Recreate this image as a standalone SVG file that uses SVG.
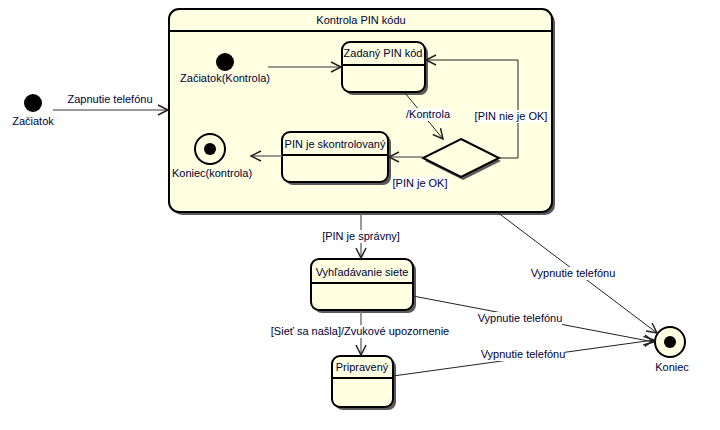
<svg xmlns="http://www.w3.org/2000/svg" width="720" height="430" viewBox="0 0 720 430">
<style>
text{font-family:"Liberation Sans",Arial,sans-serif;font-size:11px;fill:#000033}
.c{text-anchor:middle}
.st{fill:#FFFFE1;stroke:#000;stroke-width:2}
.sh{fill:#5a5a5a;stroke:none}
.hd{stroke:#000;stroke-width:2}
.ln{fill:none;stroke:#222;stroke-width:1}
.gl{fill:none;stroke:#777;stroke-width:1.5}
.lb{fill:#fff}
</style>
<defs>
<marker id="a" markerUnits="userSpaceOnUse" markerWidth="12" markerHeight="12" refX="10" refY="5" orient="auto" overflow="visible">
<path d="M0,0 L10,5 L0,10" fill="none" stroke="#222" stroke-width="1.5"/>
</marker>
</defs>
<rect width="720" height="430" fill="#fff"/>
<g id="composite">
<rect class="sh" x="172" y="12" width="383" height="203" rx="10"/>
<rect class="st" x="169" y="9" width="383" height="203" rx="10"/>
<line class="hd" x1="169" y1="31" x2="552" y2="31"/>
<text class="c" x="361" y="24">Kontrola PIN kódu</text>
</g>
<g id="start">
<circle cx="33" cy="103" r="9" fill="#000"/>
<text class="c" x="33" y="125">Začiatok</text>
</g>
<g id="start-kontrola">
<circle cx="225" cy="62" r="9" fill="#000"/>
<text class="c" x="225" y="82">Začiatok(Kontrola)</text>
</g>
<g id="zadany">
<rect class="sh" x="345" y="45" width="83" height="50" rx="8"/>
<rect class="st" x="342" y="42" width="83" height="50" rx="8"/>
<line class="hd" x1="342" y1="65" x2="425" y2="65"/>
<text class="c" x="383" y="57">Zadaný PIN kód</text>
</g>
<g id="skontrolovany">
<rect class="sh" x="285" y="135" width="106" height="50" rx="8"/>
<rect class="st" x="282" y="132" width="106" height="50" rx="8"/>
<line class="hd" x1="282" y1="155" x2="388" y2="155"/>
<text class="c" x="335" y="148">PIN je skontrolovaný</text>
</g>
<g id="decision">
<polygon class="sh" points="463,142 501,161 463,180 425,161"/>
<polygon class="st" points="461,139 499,158 461,177 423,158"/>
</g>
<g id="end-kontrola">
<circle cx="210" cy="149" r="15" fill="#FFFFE1" stroke="#000" stroke-width="2"/>
<circle cx="210" cy="149" r="6" fill="#000"/>
<text class="c" x="212" y="177">Koniec(kontrola)</text>
</g>
<g id="vyhladavanie">
<rect class="sh" x="314" y="262" width="102" height="51" rx="8"/>
<rect class="st" x="311" y="259" width="102" height="51" rx="8"/>
<line class="hd" x1="311" y1="283" x2="413" y2="283"/>
<text class="c" x="362" y="276">Vyhľadávanie siete</text>
</g>
<g id="pripraveny">
<rect class="sh" x="335" y="359" width="61" height="51" rx="8"/>
<rect class="st" x="332" y="356" width="61" height="51" rx="8"/>
<line class="hd" x1="332" y1="378" x2="393" y2="378"/>
<text class="c" x="362" y="371">Pripravený</text>
</g>
<g id="end">
<circle cx="670" cy="342" r="15" fill="#FFFFE1" stroke="#000" stroke-width="2"/>
<circle cx="670" cy="342" r="6" fill="#000"/>
<text class="c" x="672" y="371">Koniec</text>
</g>
<g id="connectors">
<line class="gl" x1="53" y1="110" x2="168" y2="110" marker-end="url(#a)"/>
<text class="c" x="110" y="103">Zapnutie telefónu</text>
<line class="gl" x1="268" y1="67" x2="341" y2="67" marker-end="url(#a)"/>
<line class="ln" x1="405" y1="93" x2="443" y2="139" marker-end="url(#a)"/>
<rect class="lb" x="407" y="108" width="43" height="13"/>
<text class="c" x="428" y="118">/Kontrola</text>
<polyline class="ln" points="499,158 518,158 518,60 426,60" marker-end="url(#a)"/>
<rect class="lb" x="475" y="110" width="73" height="13"/>
<text class="c" x="511" y="120">[PIN nie je OK]</text>
<line class="gl" x1="423" y1="157" x2="389" y2="157" marker-end="url(#a)"/>
<rect class="lb" x="392" y="177" width="55" height="13"/>
<text class="c" x="420" y="187">[PIN je OK]</text>
<line class="gl" x1="282" y1="156" x2="251" y2="156" marker-end="url(#a)"/>
<line class="gl" x1="361" y1="214" x2="361" y2="258" marker-end="url(#a)"/>
<rect class="lb" x="322" y="230" width="78" height="13"/>
<text class="c" x="361" y="240">[PIN je správny]</text>
<line class="gl" x1="361" y1="311" x2="361" y2="355" marker-end="url(#a)"/>
<rect class="lb" x="273" y="325" width="174" height="13"/>
<text class="c" x="360" y="335">[Sieť sa našla]/Zvukové upozornenie</text>
<line class="ln" x1="497" y1="212" x2="657" y2="333" marker-end="url(#a)"/>
<rect class="lb" x="531" y="267" width="84" height="13"/>
<text class="c" x="573" y="277">Vypnutie telefónu</text>
<line class="ln" x1="413" y1="296" x2="654" y2="342" marker-end="url(#a)"/>
<rect class="lb" x="478" y="312" width="84" height="13"/>
<text class="c" x="520" y="322">Vypnutie telefónu</text>
<line class="ln" x1="393" y1="376" x2="654" y2="340" marker-end="url(#a)"/>
<rect class="lb" x="481" y="348" width="84" height="13"/>
<text class="c" x="523" y="358">Vypnutie telefónu</text>
</g>
</svg>
